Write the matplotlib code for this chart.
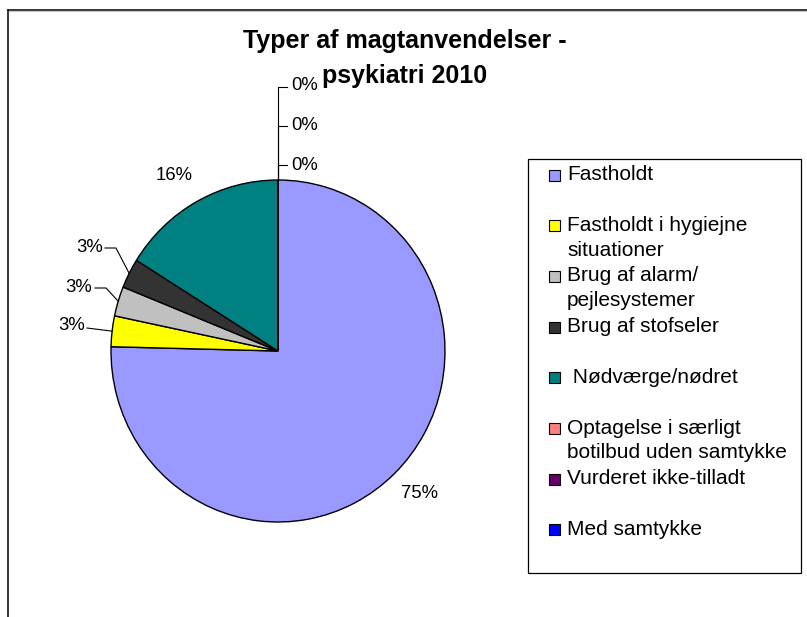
import matplotlib.pyplot as plt
from matplotlib.patches import Rectangle
import numpy as np

plt.rcParams['font.family'] = ['Liberation Sans', 'DejaVu Sans']

categories = ['Fastholdt', 'Fastholdt i hygiejne\nsituationer', 'Brug af alarm/\npejlesystemer',
              'Brug af stofseler', ' Nødværge/nødret', 'Optagelse i særligt\nbotilbud uden samtykke',
              'Vurderet ikke-tilladt', 'Med samtykke']
values = [75.4, 2.9, 2.8, 2.8, 16.1, 0, 0, 0]
colors = ['#9999FF', '#FFFF00', '#C0C0C0', '#333333', '#008080', '#FF8080', '#660066', '#0000FF']
title_lines = ['Typer af magtanvendelser -', 'psykiatri 2010']

W, H = 807, 617
cx, cy, rx, ry = 278, 351, 167, 171   # pie centre / radii in pixels

# label centres in pixels, and leader bend points (None = no leader)
label_xy = [(420, 494), (72, 326), (79, 287), (90, 247), (174, 176), (305, 165), (305, 126), (305, 86)]
bend_xy = [None, [(87, 328)], [(106, 288), (95, 288)], [(116, 248), (105, 248)], None,
           [(278, 165), (287, 165)], [(278, 126), (287, 126)], [(278, 87), (287, 87)]]

fig = plt.figure(figsize=(W / 100, H / 100), dpi=100)

ax = fig.add_axes([(cx - rx) / W, (H - cy - ry) / H, 2 * rx / W, 2 * ry / H])
wedges, _ = ax.pie(values, colors=colors, startangle=90, counterclock=False,
                   wedgeprops=dict(edgecolor='black', linewidth=1.0))
ax.set_aspect('auto')
ax.set_xlim(-1, 1)
ax.set_ylim(-1, 1)
ax.axis('off')

bg = fig.add_axes([0, 0, 1, 1], zorder=2)
bg.set_xlim(0, W)
bg.set_ylim(H, 0)
bg.patch.set_alpha(0)
bg.axis('off')

# outer chart frame (cut off at right and bottom)
bg.plot([8, 8], [H, 9.5], color='black', lw=1.1)
bg.plot([8, W], [9.5, 9.5], color='black', lw=1.1)
bg.plot([9, W], [11, 11], color='#C8C8C8', lw=0.8)

bg.text(405, 48, title_lines[0], ha='center', va='baseline', fontsize=18, fontweight='bold')
bg.text(405, 83, title_lines[1], ha='center', va='baseline', fontsize=18, fontweight='bold')

for w, v, (lx, ly), bend in zip(wedges, values, label_xy, bend_xy):
    mid = np.deg2rad((w.theta1 + w.theta2) / 2)
    if bend is not None:
        pts = [(cx + rx * np.cos(mid), cy - ry * np.sin(mid))] + bend
        xs, ys = zip(*pts)
        bg.plot(xs, ys, color='black', lw=0.8)
    bg.text(lx, ly, f'{round(v)}%', ha='center', va='center', fontsize=13.3)

# legend box
bg.add_patch(Rectangle((528, 159), 273, 414, facecolor='white', edgecolor='black', lw=0.9))
for i, (name, c) in enumerate(zip(categories, colors)):
    yc = 175 + i * 50.7
    bg.add_patch(Rectangle((549, yc - 5.5), 11, 11, facecolor=c, edgecolor='black', lw=0.8))
    for k, line in enumerate(name.split('\n')):
        bg.text(567, yc + 5 + k * 25, line, ha='left', va='baseline', fontsize=15)

fig.savefig('out.png', dpi=100)
